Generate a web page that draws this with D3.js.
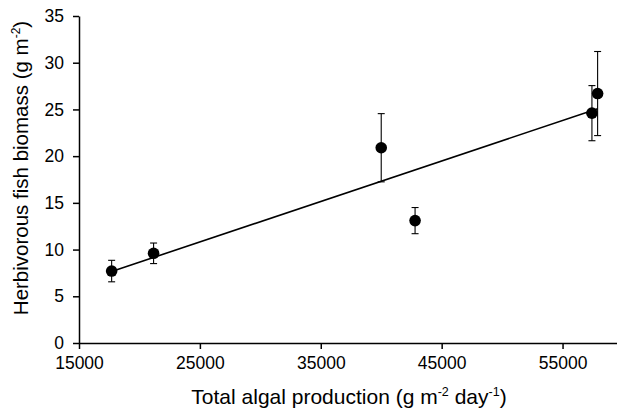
<!DOCTYPE html>
<html>
<head>
<meta charset="utf-8">
<script src="https://cdn.jsdelivr.net/npm/d3@7"></script>
<style>
  body{ margin:0; background:#fff; }
  svg{ display:block; font-family:"Liberation Sans", Arial, sans-serif; }
  .tick text{ font-size:17.5px; fill:#000; }
  .axis path, .axis line{ stroke:#000; stroke-width:1.5px; }
</style>
</head>
<body>
<svg id="chart" width="617" height="412"></svg>
<script>
/* Datos */
const production = [17700, 21170, 40000, 42800, 57430, 57900];
const biomass    = [7.7, 9.6, 20.9, 13.1, 24.6, 26.7];
const errors     = [1.15, 1.1, 3.65, 1.4, 2.95, 4.5];
const xTicks = [15000, 25000, 35000, 45000, 55000];
const yTicks = [0, 5, 10, 15, 20, 25, 30, 35];

const svg = d3.select("#chart");
const x = d3.scaleLinear().domain([15000, 60000]).range([79, 623]);
const y = d3.scaleLinear().domain([0, 35]).range([343, 16]);

const pts = production.map((p,i) => ({x:p, y:biomass[i], e:errors[i]}));

// ejes
svg.append("g").attr("class","axis")
  .attr("transform","translate(0,343)")
  .call(d3.axisBottom(x).tickValues(xTicks).tickFormat(d3.format("d")).tickSize(6).tickSizeOuter(0).tickPadding(8));

svg.append("g").attr("class","axis")
  .attr("transform","translate(79,0)")
  .call(d3.axisLeft(y).tickValues(yTicks).tickSize(6).tickSizeOuter(0).tickPadding(9));

svg.selectAll(".tick text").attr("fill","#000");

// recta de regresión (mínimos cuadrados)
const mx = d3.mean(pts, d => d.x), my = d3.mean(pts, d => d.y);
const slope = d3.sum(pts, d => (d.x-mx)*(d.y-my)) / d3.sum(pts, d => (d.x-mx)**2);
const icpt = my - slope*mx;
const ext = d3.extent(pts, d => d.x);
svg.append("line")
  .attr("x1", x(ext[0])).attr("y1", y(icpt + slope*ext[0]))
  .attr("x2", x(ext[1])).attr("y2", y(icpt + slope*ext[1]))
  .attr("stroke","#000").attr("stroke-width",1.6);

// barras de error
const eb = svg.append("g").attr("stroke","#000").attr("stroke-width",1.1);
pts.forEach(d => {
  const cx = x(d.x);
  eb.append("line").attr("x1",cx).attr("x2",cx).attr("y1",y(d.y+d.e)).attr("y2",y(d.y-d.e));
  eb.append("line").attr("x1",cx-3.5).attr("x2",cx+3.5).attr("y1",y(d.y+d.e)).attr("y2",y(d.y+d.e));
  eb.append("line").attr("x1",cx-3.5).attr("x2",cx+3.5).attr("y1",y(d.y-d.e)).attr("y2",y(d.y-d.e));
});

// puntos
svg.append("g").selectAll("circle").data(pts).enter().append("circle")
  .attr("cx", d => x(d.x)).attr("cy", d => y(d.y)).attr("r", 5.8).attr("fill","#000");

// títulos
const xt = svg.append("text").attr("x",349).attr("y",404).attr("text-anchor","middle")
  .attr("font-size","21px").attr("fill","#000");
xt.append("tspan").text("Total algal production (g m");
xt.append("tspan").attr("font-size","12.5px").attr("dy",-8).text("-2");
xt.append("tspan").attr("dy",8).text(" day");
xt.append("tspan").attr("font-size","12.5px").attr("dy",-8).text("-1");
xt.append("tspan").attr("dy",8).text(")");

const yt = svg.append("text").attr("transform","translate(27.5,168) rotate(-90)")
  .attr("text-anchor","middle").attr("font-size","20.5px").attr("fill","#000");
yt.append("tspan").text("Herbivorous fish biomass (g m");
yt.append("tspan").attr("font-size","12px").attr("dy",-8).text("-2");
yt.append("tspan").attr("dy",8).text(")");
</script>
</body>
</html>
